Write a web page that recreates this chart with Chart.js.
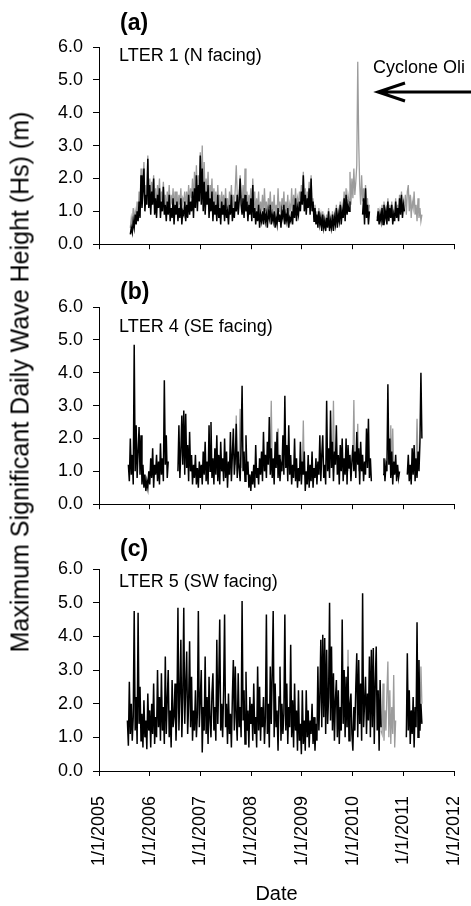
<!DOCTYPE html>
<html>
<head>
<meta charset="utf-8">
<script src="https://cdn.jsdelivr.net/npm/chart.js@4.4.1/dist/chart.umd.min.js"></script>
<style>
  body { margin: 0; background: #fff; }
  #page { position: relative; width: 471px; height: 906px; overflow: hidden; background: #fff; }
  canvas { position: absolute; left: 0; }
  #ytitle {
    position: absolute; left: 20px; top: 382px;
    transform: translate(-50%, -50%) rotate(-90deg);
    white-space: nowrap; color: #000;
    font: 25px "Liberation Sans", Arial, sans-serif;
  }
</style>
</head>
<body>
<div id="page">
  <canvas id="panel-a" width="471" height="265" style="top:0"></canvas>
  <canvas id="panel-b" width="471" height="265" style="top:260px"></canvas>
  <canvas id="panel-c" width="471" height="384" style="top:522px"></canvas>
  <div id="ytitle">Maximum Significant Daily Wave Height (Hs) (m)</div>
</div>
<script>
// weekly samples of the daily max Hs, first sample ~ early Aug 2005
const START_YEAR = 2005.56;
const STEP_DAYS = 7;
const _ = null;

const dateLabels = ["1/1/2005", "1/1/2006", "1/1/2007", "1/1/2008", "1/1/2009", "1/1/2010", "1/1/2011", "1/1/2012"];
const heightLabels = ["0.0", "1.0", "2.0", "3.0", "4.0", "5.0", "6.0"];

// (a) LTER 1 - black = measured, grey = second record
const lter1Black = [
  _, _, _, 0.3, 0.5, 0.35, 0.7, 0.5, 0.9, 0.6,
  1.0, 0.7, 1.3, 0.8, 2.1, 1.1, 1.6, 2.3, 1.0, 1.5,
  1.2, 2.6, 1.1, 1.8, 0.9, 1.6, 1.2, 2.0, 0.9, 1.4,
  0.8, 1.5, 1.1, 1.7, 0.8, 1.3, 1.0, 1.75, 0.9, 1.2,
  0.7, 1.3, 0.9, 1.5, 0.7, 1.1, 0.8, 1.4, 0.6, 1.2,
  0.9, 1.3, 0.7, 1.1, 0.8, 1.4, 0.6, 1.0, 0.9, 1.3,
  0.7, 1.2, 0.8, 1.5, 0.9, 1.3, 1.0, 1.6, 0.8, 1.7,
  1.1, 2.1, 1.0, 1.8, 1.3, 2.7, 1.2, 2.3, 1.0, 1.9,
  0.9, 1.6, 1.2, 1.8, 0.8, 1.4, 1.0, 1.6, 0.7, 1.3,
  0.9, 1.2, 0.7, 1.5, 0.8, 1.1, 0.6, 1.3, 0.9, 1.2,
  0.7, 1.4, 0.8, 1.0, 0.6, 1.2, 0.9, 1.5, 0.7, 1.1,
  0.8, 1.3, 1.0, 1.5, 0.9, 1.3, 2.0, 1.2, 0.9, 1.4,
  0.8, 1.5, 1.0, 1.3, 0.7, 1.2, 0.9, 1.4, 0.7, 1.8,
  0.8, 1.1, 0.6, 1.0, 0.7, 1.2, 0.5, 0.9, 0.7, 1.0,
  0.6, 1.1, 0.7, 0.9, 0.5, 1.0, 0.8, 1.2, 0.6, 0.9,
  0.7, 1.0, 0.5, 0.8, 0.6, 1.1, 0.7, 0.9, 0.5, 1.0,
  0.8, 1.2, 0.6, 0.9, 0.7, 1.1, 0.5, 0.8, 0.7, 1.0,
  0.6, 1.2, 0.8, 1.4, 0.7, 1.1, 0.9, 1.3, 1.0, 1.6,
  1.2, 2.1, 1.0, 1.5, 0.9, 1.4, 1.1, 1.7, 0.9, 2.0,
  1.0, 1.3, 0.7, 1.1, 0.6, 0.9, 0.5, 1.0, 0.6, 0.8,
  0.4, 0.9, 0.5, 0.7, 0.4, 0.8, 0.5, 1.0, 0.4, 0.7,
  0.5, 0.9, 0.4, 0.8, 0.6, 1.1, 0.5, 0.9, 0.7, 1.2,
  0.6, 1.0, 0.8, 1.4, 0.7, 1.5, 0.9, 1.2, 1.0, 1.3,
  _, _, _, _, _, _, _, _, _, _,
  _, _, 0.9, 1.4, 0.6, 1.7, 0.8, 1.2, 0.6, 1.0,
  _, _, _, _, _, _, _, 0.7, 1.0, 0.6,
  0.9, 0.7, 1.1, 0.6, 1.2, 0.8, 1.0, 0.6, 1.3, 0.7,
  1.1, 0.8, 1.2, 0.6, 0.9, 0.7, 1.3, 0.8, 1.1, 0.7,
  1.4, 0.9, 1.5, 0.8, 1.2, 1.0, _, _, _, _,
  _, _, _, _, _, _, _, _, _, _,
  _, _, _, _
];
const lter1Grey = [
  _, _, _, 0.5, 0.8, 0.6, 1.1, 0.7, 1.0, 0.8,
  1.3, 0.9, 1.6, 1.1, 2.3, 1.4, 1.9, 2.5, 1.3, 1.8,
  1.5, 2.7, 1.4, 2.0, 1.2, 1.9, 1.5, 2.1, 1.2, 1.7,
  1.1, 1.8, 1.4, 2.0, 1.2, 1.6, 1.3, 1.9, 1.2, 1.5,
  1.0, 1.6, 1.2, 1.8, 1.1, 1.5, 1.2, 1.7, 1.0, 1.6,
  1.2, 1.6, 1.0, 1.5, 1.2, 1.7, 1.0, 1.4, 1.3, 1.6,
  1.1, 1.6, 1.2, 1.8, 1.3, 1.7, 1.4, 2.0, 1.2, 2.2,
  1.5, 2.4, 1.4, 2.1, 1.7, 2.8, 1.6, 3.0, 1.4, 2.5,
  1.3, 2.0, 1.5, 2.2, 1.2, 1.8, 1.4, 2.0, 1.1, 1.7,
  1.2, 1.6, 1.0, 1.8, 1.1, 1.5, 0.9, 1.6, 1.2, 1.5,
  1.0, 1.7, 1.1, 1.4, 0.9, 1.6, 1.2, 1.8, 1.0, 1.5,
  1.1, 1.7, 2.4, 1.5, 1.2, 1.6, 2.1, 1.5, 1.2, 1.8,
  1.1, 2.3, 1.3, 1.6, 1.0, 1.5, 1.2, 1.7, 1.0, 2.0,
  1.1, 1.6, 0.9, 1.4, 1.0, 1.6, 0.8, 1.3, 1.0, 1.5,
  0.9, 1.7, 1.0, 1.3, 0.8, 1.4, 1.1, 1.6, 0.9, 1.3,
  1.0, 1.5, 0.8, 1.2, 0.9, 1.7, 1.0, 1.3, 0.8, 1.4,
  1.1, 1.6, 0.9, 1.3, 1.0, 1.5, 0.8, 1.2, 1.0, 1.7,
  0.9, 1.5, 1.1, 1.7, 1.0, 1.4, 1.2, 1.6, 1.3, 1.8,
  1.4, 2.2, 1.2, 1.7, 1.1, 1.6, 1.3, 1.9, 1.1, 2.1,
  1.1, 1.4, 0.8, 1.2, 0.7, 1.0, 0.6, 1.1, 0.7, 0.9,
  0.5, 1.0, 0.6, 0.8, 0.5, 0.9, 0.6, 1.1, 0.5, 0.8,
  0.6, 1.0, 0.5, 0.9, 0.7, 1.2, 0.6, 1.0, 0.8, 1.3,
  0.8, 1.2, 1.0, 1.6, 0.9, 1.7, 1.1, 1.5, 1.3, 2.2,
  1.2, 2.0, 1.4, 2.3, 1.5, 1.9, 2.4, 5.55, 3.1, 1.8,
  1.2, 2.1, 1.3, 1.7, 1.0, 1.8, 1.1, 1.4, 0.9, 1.2,
  _, _, _, _, _, _, _, 0.8, 1.1, 0.7,
  1.0, 0.8, 1.2, 0.7, 1.3, 0.9, 1.1, 0.7, 1.4, 0.8,
  1.2, 0.9, 1.3, 0.7, 1.0, 0.8, 1.4, 0.9, 1.2, 0.8,
  1.5, 1.0, 1.6, 0.9, 1.3, 1.1, 1.5, 0.9, 1.6, 1.8,
  1.0, 1.5, 0.8, 1.3, 1.1, 1.6, 0.9, 1.2, 0.7, 1.4,
  0.8, 1.1, 0.7, 0.9
];

// (b) LTER 4
const lter4Black = [
  _, 1.2, 0.7, 2.0, 0.9, 1.5, 0.6, 4.85, 1.0, 2.4,
  0.8, 1.6, 2.35, 0.9, 2.1, 0.6, 1.2, 0.5, 0.9, 0.4,
  0.7, 0.5, 1.0, 0.6, 1.4, 0.8, 1.7, 0.5, 1.2, 0.9,
  1.5, 0.7, 1.3, 0.6, 1.85, 0.9, 1.4, 0.7, 3.77, 1.2,
  2.1, 0.8, 1.3, _, _, _, _, _, _, _,
  _, _, 1.0, 2.4, 0.8, 1.6, 2.7, 1.2, 2.85, 0.9,
  2.75, 1.1, 1.8, 0.7, 2.2, 1.0, 1.5, 0.6, 1.2, 0.8,
  1.5, 0.6, 1.1, 0.5, 1.3, 0.8, 1.2, 0.6, 1.6, 0.9,
  1.9, 0.7, 1.3, 0.6, 2.4, 1.0, 2.5, 0.8, 1.4, 0.6,
  1.7, 0.9, 2.1, 0.7, 1.5, 0.6, 1.9, 1.0, 1.4, 0.7,
  2.0, 0.8, 1.6, 0.5, 1.3, 0.9, 2.2, 0.7, 1.5, 2.3,
  0.9, 1.4, 2.45, 0.8, 1.6, 1.1, 0.7, 1.8, 3.6, 1.0,
  1.6, 0.7, 2.1, 0.9, 1.3, 0.5, 0.9, 0.4, 1.0, 0.6,
  1.2, 0.5, 1.8, 0.8, 1.1, 0.6, 1.4, 0.9, 1.6, 0.7,
  2.2, 1.0, 1.5, 0.8, 1.9, 1.2, 2.65, 0.9, 1.7, 0.8,
  1.4, 0.6, 1.9, 1.1, 2.2, 0.8, 1.5, 0.7, 1.2, 1.0,
  2.1, 0.9, 3.3, 1.1, 1.8, 0.7, 2.4, 0.9, 1.5, 0.6,
  1.2, 0.8, 2.0, 0.7, 1.4, 0.5, 1.1, 0.7, 1.9, 0.6,
  1.3, 0.9, 1.6, 0.4, 1.0, 0.6, 1.5, 0.5, 1.2, 0.7,
  1.6, 0.5, 1.1, 0.8, 1.4, 0.6, 1.3, 0.9, 2.1, 0.7,
  1.5, 2.1, 0.8, 1.2, 0.6, 3.15, 1.0, 1.7, 0.8, 2.85,
  1.1, 1.9, 0.7, 1.6, 1.2, 2.4, 0.9, 1.5, 0.6, 1.8,
  1.0, 2.0, 0.7, 1.4, 0.9, 2.0, 0.6, 1.8, 1.1, 1.5,
  0.7, 1.3, 1.8, 1.0, 1.6, 0.8, 2.2, 1.2, 1.7, 0.6,
  1.9, 1.0, 1.5, 0.7, 1.3, 0.9, 2.3, 1.1, 2.6, 0.8,
  1.4, 0.7, _, _, _, _, _, _, _, _,
  _, _, _, 0.9, 1.4, 0.7, 1.2, 1.0, 3.65, 1.2,
  2.0, 0.8, 1.6, 0.6, 1.3, 0.9, 1.5, 0.7, 1.2, 0.8,
  1.0, _, _, _, _, _, _, _, 0.9, 1.5,
  0.7, 1.2, 0.6, 1.7, 0.9, 1.8, 0.7, 1.4, 0.8, 1.6,
  1.0, 1.9, 4.0, 2.0
];
const lter4Grey = [
  _, _, _, _, _, _, _, _, _, _,
  _, _, _, _, _, _, _, _, _, _,
  _, _, _, _, _, _, _, _, _, _,
  _, _, _, _, _, _, _, _, _, _,
  _, _, _, _, _, _, _, _, _, _,
  _, _, _, _, _, _, _, _, _, _,
  _, _, _, _, _, _, _, _, _, _,
  _, _, _, _, _, _, _, _, _, _,
  _, _, _, _, _, _, _, _, _, _,
  _, _, _, _, _, _, _, _, _, _,
  _, _, _, _, _, _, _, _, _, _,
  _, 1.2, 2.7, 1.0, _, 1.3, 2.9, 1.1, _, _,
  _, _, _, _, _, _, _, _, _, _,
  _, _, _, _, _, _, _, _, _, _,
  _, _, _, _, _, _, _, 1.4, 3.15, 1.2,
  _, _, _, _, 1.3, 2.3, 1.0, _, _, _,
  _, _, _, _, _, _, _, _, _, _,
  _, _, _, _, _, _, _, _, _, _,
  1.1, 2.55, 0.9, _, _, _, _, _, _, _,
  _, _, _, _, _, _, _, _, _, _,
  _, _, _, _, _, _, _, _, _, _,
  _, 1.5, 3.15, 1.2, _, _, _, _, _, _,
  _, _, _, _, _, 1.2, 1.7, 1.0, _, _,
  _, _, 1.3, 3.17, 1.1, _, 1.4, 2.45, 1.0, _,
  _, _, _, _, _, _, _, _, _, _,
  _, _, _, _, _, _, _, _, _, _,
  _, _, _, _, _, _, _, _, _, _,
  1.2, 2.4, 1.0, 2.3, 0.9, _, _, _, _, _,
  _, _, _, _, _, _, _, _, _, _,
  _, _, _, _, _, _, _, 1.2, 2.6, 1.3,
  _, _, _, _
];

// (c) LTER 5
const lter5Black = [
  1.5, 0.75, 2.65, 1.1, 2.0, 0.9, 1.6, 4.75, 1.2, 2.2,
  0.8, 4.7, 1.4, 2.5, 0.9, 1.7, 0.7, 2.1, 1.0, 1.5,
  0.65, 2.3, 1.2, 1.8, 0.7, 2.0, 1.1, 2.6, 0.8, 1.6,
  1.0, 3.0, 1.3, 2.2, 0.9, 2.9, 1.2, 1.9, 0.8, 3.4,
  1.1, 2.1, 3.0, 1.0, 1.8, 0.7, 2.7, 1.3, 1.6, 2.6,
  0.9, 1.9, 4.85, 1.2, 2.3, 3.9, 1.0, 2.2, 4.85, 1.4,
  2.5, 3.55, 1.1, 2.0, 3.85, 1.3, 2.8, 0.9, 1.8, 1.2,
  2.4, 1.0, 1.7, 4.75, 1.3, 2.1, 3.0, 0.55, 1.9, 1.2,
  3.4, 1.1, 2.2, 0.8, 2.8, 1.5, 1.0, 2.3, 2.9, 1.2,
  1.9, 0.9, 3.9, 1.4, 2.6, 4.5, 1.2, 2.0, 1.0, 2.4,
  4.65, 1.3, 2.0, 0.8, 2.3, 1.1, 1.7, 0.7, 2.2, 3.3,
  1.2, 3.1, 1.6, 0.9, 2.9, 1.3, 1.9, 1.0, 5.05, 1.5,
  2.4, 0.8, 2.95, 1.2, 1.8, 0.7, 2.2, 1.4, 2.0, 0.9,
  2.6, 1.1, 1.6, 0.7, 3.1, 1.2, 2.5, 0.9, 1.9, 1.3,
  2.2, 0.8, 1.6, 4.65, 1.1, 2.0, 0.7, 3.1, 1.4, 2.9,
  4.75, 1.0, 2.6, 1.3, 1.8, 0.6, 2.2, 3.1, 0.9, 2.0,
  1.1, 1.7, 4.65, 1.2, 2.6, 0.8, 1.9, 1.3, 3.75, 1.0,
  2.1, 0.7, 2.6, 1.2, 1.8, 0.6, 2.4, 0.9, 1.4, 0.5,
  2.4, 0.8, 1.5, 0.6, 2.4, 1.0, 1.8, 0.7, 1.5, 1.1,
  2.0, 0.8, 1.6, 0.6, 1.4, 0.9, 3.1, 1.2, 2.2, 3.9,
  1.3, 4.05, 1.6, 3.95, 1.1, 3.6, 1.4, 2.2, 5.0, 1.5,
  3.7, 1.2, 2.9, 0.9, 2.1, 2.7, 1.0, 2.4, 0.8, 1.9,
  1.2, 4.5, 1.4, 3.0, 1.0, 2.8, 1.3, 3.1, 0.9, 2.0,
  2.3, 1.1, 0.6, 1.9, 1.2, 2.5, 3.5, 1.0, 3.3, 1.4,
  2.6, 0.9, 5.28, 1.3, 2.0, 2.8, 1.1, 2.3, 1.5, 3.4,
  1.0, 3.6, 1.3, 3.65, 0.8, 2.6, 3.7, 1.2, 2.4, 0.6,
  2.7, 1.3, _, _, _, _, _, _, _, _,
  _, _, _, _, _, _, _, _, _, _,
  _, _, _, _, _, _, _, 1.0, 3.5, 1.2,
  2.4, 0.8, 1.8, 1.1, 2.2, 0.7, 1.9, 1.3, 4.42, 1.0,
  3.3, 1.2, 2.0, 1.4
];
const lter5Grey = [
  _, _, _, _, _, _, _, _, _, _,
  _, _, _, _, _, _, _, _, _, _,
  _, _, _, _, _, _, _, _, _, _,
  _, _, _, _, _, _, _, _, _, _,
  _, _, _, _, _, _, _, _, _, _,
  _, _, _, _, _, _, _, _, _, _,
  _, _, _, _, _, _, _, _, _, _,
  _, _, _, _, _, _, _, _, _, _,
  _, _, _, _, _, _, _, _, _, _,
  _, _, _, _, _, _, _, _, _, _,
  _, _, _, _, _, _, _, _, _, _,
  _, _, _, _, _, _, _, _, _, _,
  _, _, _, _, _, _, _, _, _, _,
  _, _, _, _, _, _, _, _, _, _,
  _, _, _, _, _, _, _, _, _, _,
  _, _, _, _, _, _, _, _, _, _,
  _, _, _, _, _, _, _, _, _, _,
  _, _, _, _, _, _, _, _, _, _,
  _, _, _, _, _, _, _, _, _, _,
  _, _, _, _, _, _, _, _, _, _,
  _, _, _, _, _, _, _, _, _, _,
  _, _, _, _, _, _, _, _, _, _,
  _, _, _, _, _, _, 1.3, 3.6, 1.0, _,
  _, _, _, _, _, _, _, _, _, _,
  _, _, _, _, _, _, _, _, _, _,
  _, _, _, _, _, _, _, _, _, _,
  _, 1.2, 1.1, 2.6, 0.9, 1.8, 1.2, 2.3, 3.25, 1.0,
  2.4, 0.8, 1.9, 1.1, 2.85, 0.7, 1.5, _, _, _,
  _, _, _, _, _, _, _, _, _, _,
  _, _, _, _, _, _, _, _, _, _,
  _, 1.5, 3.1, 2.0
];

const FONT = "'Liberation Sans', Arial, Helvetica, sans-serif";

function toPoints(values) {
  return values.map((v, i) => ({ x: START_YEAR + (i * STEP_DAYS) / 365.25, y: v }));
}

//panel letter + site name
const panelText = {
  id: "panelText",
  afterDraw(chart, args, opts) {
    const { ctx } = chart;
    ctx.save();
    ctx.fillStyle = "#000";
    ctx.textAlign = "left";
    ctx.textBaseline = "alphabetic";
    ctx.font = "bold 23px " + FONT;
    ctx.fillText(opts.letter, 120, opts.letterY);
    ctx.font = "18px " + FONT;
    ctx.fillText(opts.site, 119, opts.siteY);
    ctx.restore();
  },
};

//Cyclone Oli note with arrow (panel a only)
const cycloneNote = {
  id: "cycloneNote",
  afterDraw(chart) {
    const { ctx } = chart;
    ctx.save();
    ctx.fillStyle = "#000";
    ctx.font = "18px " + FONT;
    ctx.textAlign = "left";
    ctx.fillText("Cyclone Oli", 373, 73);
    ctx.strokeStyle = "#000";
    ctx.lineWidth = 3;
    ctx.beginPath();
    ctx.moveTo(471, 92);
    ctx.lineTo(378, 92);
    ctx.moveTo(405, 83);
    ctx.lineTo(378, 92);
    ctx.lineTo(405, 101);
    ctx.stroke();
    ctx.restore();
  },
};

function makePanel(id, black, grey, cfg) {
  new Chart(document.getElementById(id), {
    type: "line",
    plugins: cfg.extraPlugins ? [panelText].concat(cfg.extraPlugins) : [panelText],
    data: {
      datasets: [
        {
          label: "black",
          data: toPoints(black),
          borderColor: "#000",
          borderWidth: 1.5,
          pointRadius: 0,
          tension: 0,
          order: 0,
        },
        {
          label: "grey",
          data: toPoints(grey),
          borderColor: "#9c9c9c",
          borderWidth: 1.3,
          pointRadius: 0,
          tension: 0,
          order: 1,
        },
      ],
    },
    options: {
      responsive: false,
      animation: false,
      events: [],
      layout: { padding: { top: 47, right: 17, left: 0, bottom: 0 } },
      plugins: {
        legend: { display: false },
        tooltip: { enabled: false },
        panelText: { letter: cfg.letter, letterY: cfg.letterY, site: cfg.site, siteY: cfg.siteY },
      },
      scales: {
        x: {
          type: "linear",
          min: 2005,
          max: 2012,
          afterFit(scale) {
            scale.height = cfg.xHeight;
            // rotated date labels must not squeeze the plot width
            scale.paddingLeft = 0;
            scale.paddingRight = 0;
          },
          ticks: {
            display: cfg.showDates,
            stepSize: 1,
            autoSkip: false,
            minRotation: 90,
            maxRotation: 90,
            padding: 20,
            color: "#000",
            font: { family: FONT, size: 18 },
            callback: (v, idx) => dateLabels[idx],
          },
          grid: { drawOnChartArea: false, drawTicks: true, tickLength: 5, color: "#000", lineWidth: 1 },
          border: { display: true, color: "#000", width: 1 },
          title: {
            display: cfg.showDates,
            text: "Date",
            color: "#000",
            font: { family: FONT, size: 20 },
            padding: { top: 0, bottom: 0 },
          },
        },
        y: {
          min: 0,
          max: 6,
          afterFit(scale) {
            scale.width = 99;
          },
          ticks: {
            stepSize: 1,
            padding: 10,
            color: "#000",
            font: { family: FONT, size: 18 },
            callback: (v, idx) => heightLabels[idx],
          },
          grid: { drawOnChartArea: false, drawTicks: true, tickLength: 6, color: "#000", lineWidth: 1 },
          border: { display: true, color: "#000", width: 1 },
        },
      },
    },
  });
}

makePanel("panel-a", lter1Black, lter1Grey, {
  letter: "(a)", letterY: 30, site: "LTER 1 (N facing)", siteY: 61,
  xHeight: 17, showDates: false, extraPlugins: [cycloneNote],
});
makePanel("panel-b", lter4Black, lter4Grey, {
  letter: "(b)", letterY: 39, site: "LTER 4 (SE facing)", siteY: 72,
  xHeight: 16, showDates: false,
});
makePanel("panel-c", lter5Black, lter5Grey, {
  letter: "(c)", letterY: 34, site: "LTER 5 (SW facing)", siteY: 65,
  xHeight: 135, showDates: true,
});
</script>
</body>
</html>
